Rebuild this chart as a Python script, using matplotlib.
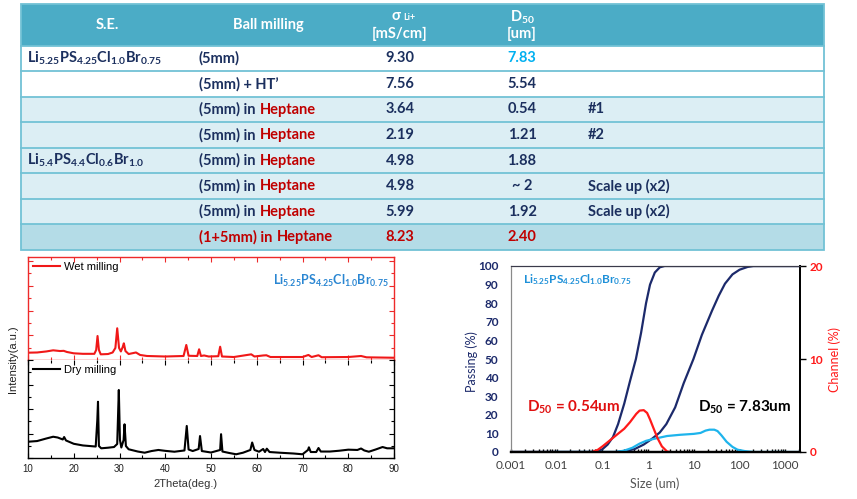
import matplotlib
matplotlib.use('Agg')
import matplotlib.pyplot as plt
from matplotlib.patches import Rectangle
from matplotlib.ticker import MultipleLocator, LogLocator, NullFormatter, FixedLocator

plt.rcParams['mathtext.fontset'] = 'custom'
plt.rcParams['mathtext.rm'] = 'Lato'
plt.rcParams['mathtext.bf'] = 'Lato:bold'
plt.rcParams['mathtext.it'] = 'Lato:italic'

# ---------------- table data ----------------
se_labels = [r'$\mathbf{Li_{5.25}PS_{4.25}Cl_{1.0}Br_{0.75}}$', '', '', '',
             r'$\mathbf{Li_{5.4}PS_{4.4}Cl_{0.6}Br_{1.0}}$', '', '', '']
milling = ['(5mm)', '(5mm) + HT\u2019', '(5mm) in', '(5mm) in', '(5mm) in',
           '(5mm) in', '(5mm) in', '(1+5mm) in']
solvent = ['', '', 'Heptane', 'Heptane', 'Heptane', 'Heptane', 'Heptane', 'Heptane']
sigma = ['9.30', '7.56', '3.64', '2.19', '4.98', '4.98', '5.99', '8.23']
d50 = ['7.83', '5.54', '0.54', '1.21', '1.88', '~ 2', '1.92', '2.40']
notes = ['', '', '#1', '#2', '', 'Scale up (x2)', 'Scale up (x2)', '']

# ---------------- XRD data ----------------
wet_2theta = [10, 12, 14, 15.5, 17, 17.8, 18.5, 20, 22, 24.5, 24.9, 25.2, 25.5, 25.9,
              27.5, 28.5, 29.1, 29.5, 29.9, 30.3, 30.7, 30.95, 31.3, 32, 33.6, 34.5,
              36, 40, 44, 44.6, 45.1, 47, 47.4, 47.8, 48.5, 49.5, 51.6, 52.0, 52.4,
              55, 58.8, 59.5, 61.4, 62.1, 63, 70, 71.3, 72, 73.5, 74.2, 80, 82.8, 84, 90]
wet_int = [7.1, 7.3, 8.3, 9.4, 8.7, 8.9, 7.8, 6.5, 6.0, 6.0, 9.7, 23.3, 9.7, 5.5,
           5.8, 7.3, 11.7, 30.8, 11.7, 8.3, 12.6, 16.2, 8.7, 5.8, 7.3, 4.9,
           3.9, 3.4, 3.9, 14.6, 4.1, 3.9, 10.4, 3.9, 4.4, 3.4, 3.7, 12.9, 3.4,
           2.9, 5.5, 3.4, 4.4, 4.6, 2.9, 2.9, 4.9, 2.9, 4.6, 2.7, 2.9, 3.9, 2.6, 2.2]

dry_2theta = [10, 12, 14, 15.5, 16.5, 17.6, 17.9, 18.3, 20, 22, 24.8, 25.15, 25.3, 25.5,
              26, 27.5, 28.8, 29.5, 29.75, 29.85, 30.1, 30.4, 30.9, 31.1, 31.4, 32,
              34, 35.5, 37, 38.5, 40, 42, 44.2, 44.7, 45.1, 46, 47.3, 47.6, 48.0, 50,
              52.0, 52.2, 52.5, 54, 55.5, 57, 58.6, 59, 59.5, 60.5, 61.4, 61.8, 62.2,
              62.8, 65, 68, 70, 71.2, 71.4, 71.8, 73, 73.5, 74, 76, 78, 80, 82, 82.8,
              83.5, 84.5, 86, 87.5, 88.5, 90]
dry_int = [16.6, 17.3, 19.9, 21.7, 20.9, 18.9, 21.4, 17.9, 14.5, 12.8, 11.7, 38.8, 57.4, 12.2,
           9.9, 10.5, 11.2, 14.3, 54, 69.4, 18.4, 10.7, 18.4, 34.4, 12.2, 8.9,
           6.6, 5.4, 7.1, 8.2, 7.3, 6.4, 7.7, 32.7, 8.7, 7.1, 9.2, 22.4, 7.1, 5.6,
           8.2, 24.3, 6.6, 5.1, 3.8, 5.4, 8.2, 15.8, 8.2, 6.4, 9.2, 6.1, 9.5,
           6.1, 5.4, 4.6, 3.8, 8.2, 10.9, 6.1, 6.1, 10.2, 6.6, 6.6, 7.4, 8.5, 8.2, 9.7,
           7.7, 6.4, 8.7, 11.2, 9.9, 9.9]

# ---------------- particle size data ----------------
wet_pass_size = [0.001, 0.06, 0.08, 0.1, 0.13, 0.17, 0.22, 0.3, 0.4, 0.54, 0.7, 0.9,
                 1.1, 1.4, 1.8, 2.3, 2100]
wet_pass = [0, 0, 0.5, 1.5, 4, 8, 15, 26, 38, 50, 64, 80, 90, 96.5, 99.3, 100, 100]

dry_pass_size = [0.001, 0.2, 0.3, 0.5, 0.8, 1.2, 1.8, 2.5, 3.9, 6, 9.8, 15, 25, 35, 48,
                 70, 100, 150, 200, 2100]
dry_pass = [0, 0, 0.5, 1.5, 4, 7, 10.5, 15, 24, 37, 50, 63, 76, 84, 90.5, 95.5, 98,
            99.5, 100, 100]

wet_chan_size = [0.06, 0.08, 0.1, 0.15, 0.2, 0.3, 0.4, 0.55, 0.65, 0.8, 0.95, 1.1, 1.3,
                 1.6, 2.0, 2.6, 3.0]
wet_chan = [0, 0.25, 0.6, 1.3, 1.8, 2.5, 3.2, 4.1, 4.45, 4.5, 4.2, 3.5, 2.6, 1.5, 0.6,
            0.05, 0]

dry_chan_size = [0.01, 0.2, 0.3, 0.45, 0.65, 0.9, 1.3, 1.8, 2.6, 5, 10, 14, 18, 22, 28,
                 33, 40, 52, 70, 90, 130, 200, 2100]
dry_chan = [0, 0, 0.15, 0.45, 0.9, 1.2, 1.4, 1.55, 1.72, 1.85, 1.95, 2.05, 2.3, 2.4,
            2.4, 2.25, 1.8, 1.1, 0.55, 0.25, 0.1, 0, 0]

# ---------------- colours ----------------
NAVY_TXT = '#1B2F5E'
RED_TXT = '#C00000'
TEAL = '#4BACC6'
LIGHT = '#DCEEF4'
DARK = '#B4DCE7'
LINE = '#72C2D5'

W, H = 857, 499
fig = plt.figure(figsize=(W / 100, H / 100), dpi=100)


def px_axes(x0, y0, x1, y1):
    return fig.add_axes([x0 / W, 1 - y1 / H, (x1 - x0) / W, (y1 - y0) / H])


# ================= table =================
tax = fig.add_axes([0, 0, 1, 1])
tax.set_xlim(0, W)
tax.set_ylim(H, 0)
tax.axis('off')

tl, tr = 21.5, 824.5
head_top, head_bot, tab_bot = 3.5, 45.5, 250
n_rows = len(sigma)
row_h = (tab_bot - head_bot) / n_rows
row_colors = ['white', 'white'] + [LIGHT] * 5 + [DARK]

tax.add_patch(Rectangle((tl, head_top), tr - tl, head_bot - head_top, fc=TEAL, ec='none'))
for i in range(n_rows):
    y0 = head_bot + i * row_h
    tax.add_patch(Rectangle((tl, y0), tr - tl, row_h, fc=row_colors[i], ec='none'))
    tax.plot([tl, tr], [y0, y0], color=LINE, lw=1.3)
tax.add_patch(Rectangle((tl, head_top), tr - tl, tab_bot - head_top, fc='none', ec=LINE, lw=1.3))

tfont = dict(family=['Lato', 'DejaVu Sans'], fontweight='bold', fontsize=10.5)
hy = (head_top + head_bot) / 2
tax.text(107, hy, 'S.E.', color='white', ha='center', va='center', **tfont)
tax.text(268, hy, 'Ball milling', color='white', ha='center', va='center', **tfont)
sg = tax.text(396, 16, '\u03c3', color='white', ha='center', va='center', **tfont)
tax.annotate('Li+', xy=(1, 0.1), xycoords=sg, xytext=(2, 0), textcoords='offset points',
             color='white', ha='left', va='bottom', family=['Lato', 'DejaVu Sans'],
             fontweight='bold', fontsize=6.5)
tax.text(400, 34, '[mS/cm]', color='white', ha='center', va='center', **tfont)
tax.text(522, 17, r'$\mathbf{D_{50}}$', color='white', ha='center', va='center', fontsize=10.5)
tax.text(522, 34, '[um]', color='white', ha='center', va='center', **tfont)

for i in range(n_rows):
    yc = head_bot + (i + 0.5) * row_h
    hl = (i == n_rows - 1)
    if se_labels[i]:
        tax.text(27, yc, se_labels[i], color=NAVY_TXT, ha='left', va='center', fontsize=10.5)
    t = tax.text(199, yc, milling[i], color=RED_TXT if hl else NAVY_TXT,
                 ha='left', va='center', **tfont)
    if solvent[i]:
        tax.annotate(solvent[i], xy=(1, 0), xycoords=t, xytext=(3, 0),
                     textcoords='offset points', color=RED_TXT, ha='left', va='bottom',
                     **tfont)
    tax.text(400, yc, sigma[i], color=RED_TXT if hl else NAVY_TXT, ha='center',
             va='center', **tfont)
    dcol = '#00B0F0' if i == 0 else (RED_TXT if hl else NAVY_TXT)
    tax.text(522, yc, d50[i], color=dcol, ha='center', va='center', **tfont)
    if notes[i]:
        tax.text(588, yc, notes[i], color=NAVY_TXT, ha='left', va='center', **tfont)

# ================= XRD =================
XRED = '#EE2A2A'
afont = dict(family=['Liberation Sans', 'DejaVu Sans'])
ax_wet = px_axes(28, 257, 394, 360)
ax_dry = px_axes(28, 360, 394, 458)

ax_wet.plot(wet_2theta, wet_int, color='#F01818', lw=1.5, label='Wet milling')
ax_dry.plot(dry_2theta, dry_int, color='black', lw=1.5, label='Dry milling')

for ax, col, ymaj in [(ax_wet, XRED, 24), (ax_dry, 'black', 25)]:
    ax.set_xlim(10, 90)
    ax.set_ylim(0, 100)
    ax.xaxis.set_major_locator(MultipleLocator(10))
    ax.xaxis.set_minor_locator(MultipleLocator(5))
    ax.yaxis.set_major_locator(MultipleLocator(ymaj))
    ax.yaxis.set_minor_locator(MultipleLocator(ymaj / 2))
    ax.tick_params(which='both', direction='in', top=True, right=True, colors=col,
                   width=0.8)
    ax.tick_params(which='major', length=3.5)
    ax.tick_params(which='minor', length=2)
    ax.set_yticklabels([])
    for s in ax.spines.values():
        s.set_color(col)
        s.set_linewidth(1.0)
    ax.legend(loc='upper left', frameon=False, handlelength=2.4, handletextpad=0.4,
              borderaxespad=0.15, borderpad=0.3, prop=dict(size=8, family='Liberation Sans'))

ax_dry.spines['top'].set_visible(False)
ax_wet.set_xticklabels([])
ax_dry.tick_params(axis='x', labelsize=7, labelcolor='#222222', pad=4)
for lab in ax_dry.get_xticklabels():
    lab.set_family('Liberation Sans')
ax_wet.text(0.985, 0.77, r'$\mathbf{Li_{5.25}PS_{4.25}Cl_{1.0}Br_{0.75}}$', color='#2A86D2',
            transform=ax_wet.transAxes, ha='right', va='center', fontsize=9)
fig.text(13 / W, 1 - 359 / H, 'Intensity(a.u.)', rotation=90, ha='center', va='center',
         fontsize=8, color='#222222', **afont)
fig.text(185 / W, 1 - 484 / H, '2Theta(deg.)', ha='center', va='center', fontsize=8,
         color='#333333', **afont)

# ================= particle size distribution =================
PNAVY = '#1C2A6B'
ax_p = px_axes(511, 266, 800, 452)
ax_c = ax_p.twinx()
ax_p.set_xscale('log')
ax_p.set_xlim(0.001, 2100)
ax_p.set_ylim(0, 100)
ax_c.set_ylim(0, 20)

ax_p.plot(wet_pass_size, wet_pass, color=PNAVY, lw=1.6)
ax_p.plot(dry_pass_size, dry_pass, color=PNAVY, lw=1.6)
ax_c.plot(dry_chan_size, dry_chan, color='#1EB4EC', lw=1.6)
ax_c.plot(wet_chan_size, wet_chan, color='#FF1A1A', lw=1.6)

lfont = dict(family=['Lato', 'DejaVu Sans'])
ax_p.yaxis.set_major_locator(MultipleLocator(10))
ax_p.tick_params(axis='y', length=0, pad=9, labelsize=8.5, labelcolor=PNAVY)
for lab in ax_p.get_yticklabels():
    lab.set_fontweight('bold')
    lab.set_family('Lato')
ax_p.xaxis.set_major_locator(LogLocator(base=10, numticks=10))
ax_p.xaxis.set_minor_locator(LogLocator(base=10, subs=range(2, 10), numticks=20))
ax_p.xaxis.set_minor_formatter(NullFormatter())
ax_p.set_xticks([0.001, 0.01, 0.1, 1, 10, 100, 1000])
ax_p.set_xticklabels(['0.001', '0.01', '0.1', '1', '10', '100', '1000'])
ax_p.tick_params(axis='x', which='both', direction='in', length=2.5, width=1,
                 color='black', labelsize=8.5, labelcolor='#404040', pad=6)
for lab in ax_p.get_xticklabels():
    lab.set_family('Lato')

ax_c.yaxis.set_major_locator(FixedLocator([0, 10, 20]))
ax_c.tick_params(axis='y', direction='out', length=4, width=1, color='black', pad=3,
                 labelsize=8.5, labelcolor='#FF1A1A')
for lab in ax_c.get_yticklabels():
    lab.set_fontweight('bold')
    lab.set_family('Lato')

for ax in (ax_p, ax_c):
    ax.spines['top'].set_color('#3A3A4A')
    ax.spines['left'].set_color('#8A8A8A')
    ax.spines['bottom'].set_color('black')
    ax.spines['bottom'].set_linewidth(1.6)
    ax.spines['right'].set_color('black')
    ax.spines['right'].set_linewidth(1.3)

ax_p.text(0.042, 0.925, r'$\mathbf{Li_{5.25}PS_{4.25}Cl_{1.0}Br_{0.75}}$', color='#1E90D8',
          transform=ax_p.transAxes, ha='left', va='center', fontsize=8.5)
ax_p.text(0.055, 0.242, r'$\mathbf{D_{50}}$' + ' = 0.54um', color='#E01010',
          transform=ax_p.transAxes, ha='left', va='center', fontsize=11,
          fontweight='bold', **lfont)
ax_p.text(0.647, 0.242, r'$\mathbf{D_{50}}$' + ' = 7.83um', color='black',
          transform=ax_p.transAxes, ha='left', va='center', fontsize=11,
          fontweight='bold', **lfont)

fig.text(472 / W, 1 - 362 / H, 'Passing (%)', rotation=90, ha='center', va='center',
         fontsize=9, color=PNAVY, **lfont)
fig.text(835 / W, 1 - 359 / H, 'Channel (%)', rotation=90, ha='center', va='center',
         fontsize=9, color='#FF1A1A', **lfont)
fig.text(655 / W, 1 - 484 / H, 'Size (um)', ha='center', va='center', fontsize=9,
         color='#555555', **lfont)

fig.savefig('out.png', dpi=100)
